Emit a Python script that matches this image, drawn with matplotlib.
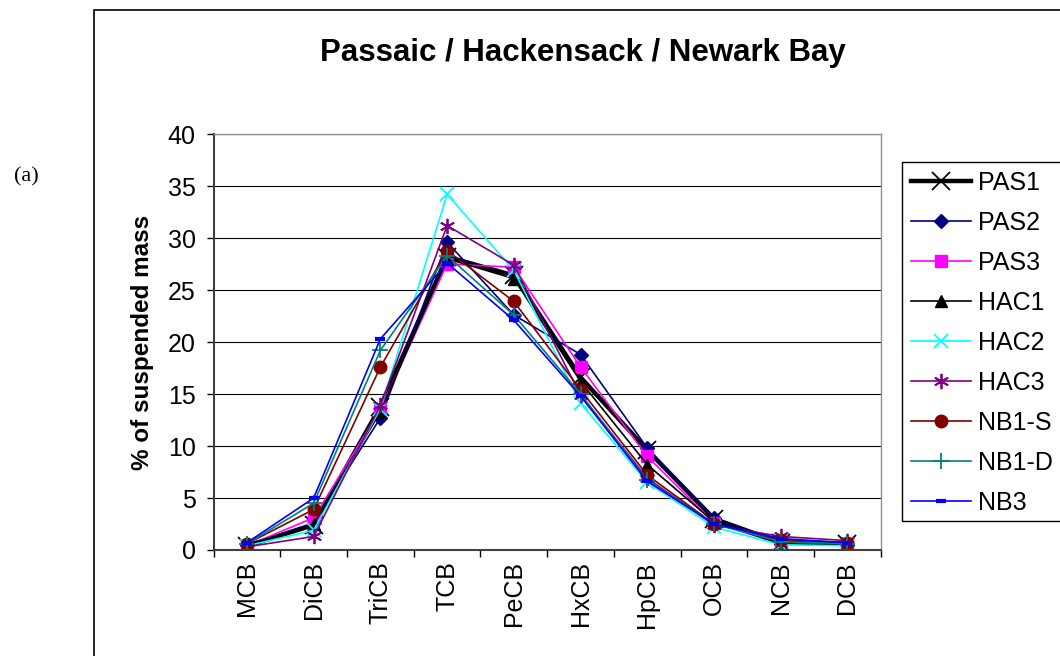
import numpy as np
import matplotlib.pyplot as plt
from matplotlib.patches import Rectangle

plt.rcParams['font.family'] = ['Liberation Sans', 'DejaVu Sans']

# congener groups and % of suspended mass per sample
categories = ['MCB', 'DiCB', 'TriCB', 'TCB', 'PeCB', 'HxCB', 'HpCB', 'OCB', 'NCB', 'DCB']
PAS1 = [0.4, 2.4, 13.8, 28.2, 26.4, 16.6, 9.6, 3.0, 0.7, 0.6]
PAS2 = [0.5, 2.6, 12.7, 29.6, 22.6, 18.8, 9.8, 3.1, 0.6, 0.5]
PAS3 = [0.4, 3.1, 13.5, 27.5, 27.2, 17.6, 9.0, 2.6, 0.6, 0.5]
HAC1 = [0.5, 2.5, 13.3, 28.0, 26.1, 16.2, 8.2, 2.7, 0.6, 0.5]
HAC2 = [0.4, 1.9, 13.6, 34.2, 26.9, 14.1, 6.5, 2.2, 0.5, 0.4]
HAC3 = [0.3, 1.3, 13.9, 31.2, 27.4, 14.9, 6.9, 2.4, 1.3, 0.9]
NB1_S = [0.6, 3.9, 17.6, 28.8, 23.9, 15.4, 7.2, 2.5, 1.0, 0.7]
NB1_D = [0.6, 4.5, 19.2, 28.3, 22.6, 15.0, 6.7, 2.5, 0.8, 0.6]
NB3 = [0.7, 5.0, 20.3, 27.6, 22.1, 14.8, 6.6, 2.5, 1.1, 0.7]

series = [
    ('PAS1', PAS1, dict(color='black', lw=3.2, marker='x', ms=13, mew=1.3)),
    ('PAS2', PAS2, dict(color='#000080', lw=1.2, marker='D', ms=7)),
    ('PAS3', PAS3, dict(color='#FF00FF', lw=1.2, marker='s', ms=8)),
    ('HAC1', HAC1, dict(color='black', lw=1.2, marker='^', ms=9)),
    ('HAC2', HAC2, dict(color='#00FFFF', lw=1.2, marker='x', ms=10, mew=1.3)),
    ('HAC3', HAC3, dict(color='#800080', lw=1.2, marker=(6, 2, 0), ms=11, mew=1.3)),
    ('NB1-S', NB1_S, dict(color='#800000', lw=1.2, marker='o', ms=9)),
    ('NB1-D', NB1_D, dict(color='#008080', lw=1.2, marker='+', ms=11, mew=1.3)),
    ('NB3', NB3, dict(color='#0000FF', lw=1.2, marker='_', ms=7, mew=3)),
]

fig = plt.figure(figsize=(10.6, 6.56), dpi=100)
ax = fig.add_axes([0.2015, 0.1616, 0.6295, 0.634])

x = np.arange(len(categories))
for name, vals, style in series:
    ax.plot(x, vals, label=name, **style)

ax.set_xlim(-0.5, len(categories) - 0.5)
ax.set_ylim(0, 40)
ax.set_yticks(np.arange(0, 41, 5))
ax.yaxis.grid(True, color='black', lw=0.8)
ax.set_axisbelow(True)

ax.set_xticks(x)
ax.set_xticklabels(categories, rotation=90, fontsize=18)
ax.set_xticks(np.arange(-0.5, len(categories), 1), minor=True)
ax.tick_params(axis='x', which='major', length=0, pad=8)
ax.tick_params(axis='x', which='minor', length=5, width=1, direction='out')
ax.tick_params(axis='y', length=5, width=1, direction='out', labelsize=18, pad=8)

for s in ['left', 'bottom']:
    ax.spines[s].set_color('#404040')
    ax.spines[s].set_linewidth(1.5)
for s in ['top', 'right']:
    ax.spines[s].set_color('#909090')
    ax.spines[s].set_linewidth(1)

ax.set_ylabel('% of suspended mass', fontsize=17.5, fontweight='bold', labelpad=10)
fig.text(583 / 1060, 1 - 53 / 656, 'Passaic / Hackensack / Newark Bay',
         fontsize=22.5, fontweight='bold', ha='center', va='center')
fig.text(26 / 1060, 1 - 177 / 656, '(a)', fontsize=16,
         family=['Liberation Serif', 'DejaVu Serif'], ha='center', va='center')

leg = ax.legend(loc='upper left', bbox_to_anchor=(902 / 1060, 1 - 162 / 656),
                bbox_transform=fig.transFigure, fontsize=18, frameon=False,
                borderaxespad=0, handlelength=2.4, handletextpad=0.3,
                labelspacing=0.64, borderpad=0.35)

# legend box, cut off by the right edge like the original
fig.add_artist(Rectangle((902 / 1060, 1 - 521 / 656), 0.3, (521 - 162) / 656,
                         transform=fig.transFigure, fill=False,
                         ec='black', lw=1))

# outer chart border, running off the right and bottom edges
fig.add_artist(Rectangle((94 / 1060, -0.2), 1.2, 1.2 - 10 / 656,
                         transform=fig.transFigure, fill=False,
                         ec='black', lw=1.2))

fig.savefig('out.png', dpi=100)
